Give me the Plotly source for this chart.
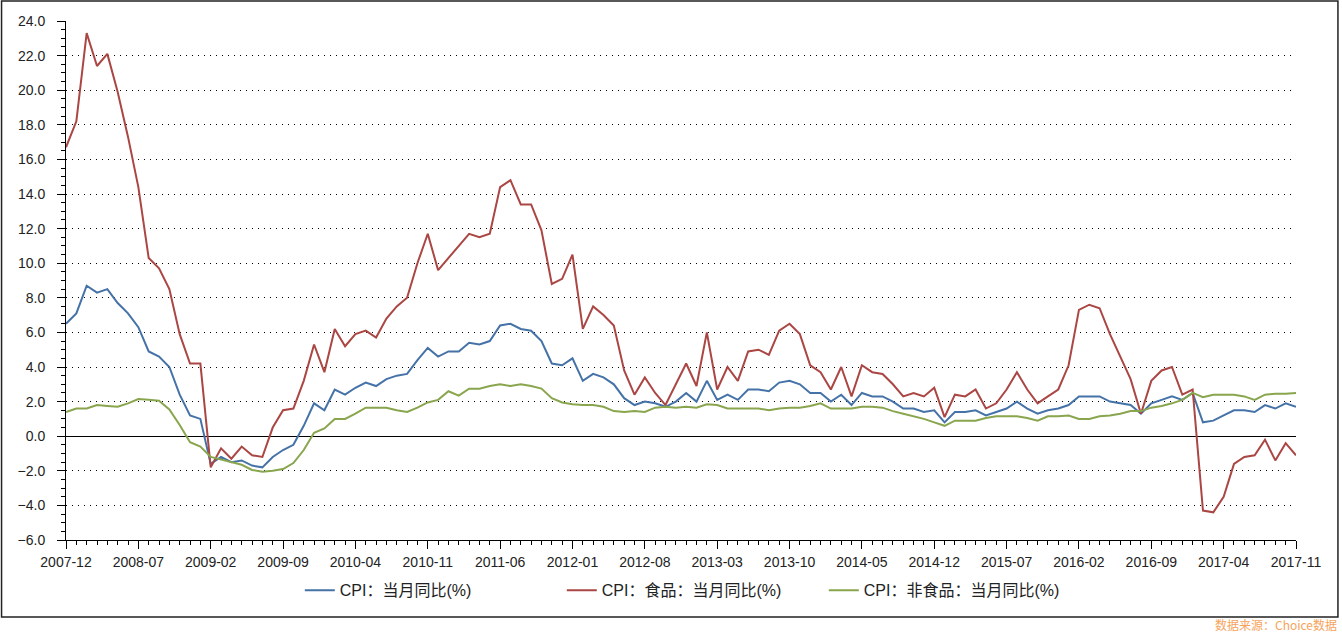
import pandas as pd
import plotly.graph_objects as go

# ---- data (monthly, 2007-12 .. 2017-11) ----
months = [p.strftime("%Y-%m") for p in pd.period_range("2007-12", "2017-11", freq="M")]

cpi = [6.5,
       7.1, 8.7, 8.3, 8.5, 7.7, 7.1, 6.3, 4.9, 4.6, 4.0, 2.4, 1.2,
       1.0, -1.6, -1.2, -1.5, -1.4, -1.7, -1.8, -1.2, -0.8, -0.5, 0.6, 1.9,
       1.5, 2.7, 2.4, 2.8, 3.1, 2.9, 3.3, 3.5, 3.6, 4.4, 5.1, 4.6,
       4.9, 4.9, 5.4, 5.3, 5.5, 6.4, 6.5, 6.2, 6.1, 5.5, 4.2, 4.1,
       4.5, 3.2, 3.6, 3.4, 3.0, 2.2, 1.8, 2.0, 1.9, 1.7, 2.0, 2.5,
       2.0, 3.2, 2.1, 2.4, 2.1, 2.7, 2.7, 2.6, 3.1, 3.2, 3.0, 2.5,
       2.5, 2.0, 2.4, 1.8, 2.5, 2.3, 2.3, 2.0, 1.6, 1.6, 1.4, 1.5,
       0.8, 1.4, 1.4, 1.5, 1.2, 1.4, 1.6, 2.0, 1.6, 1.3, 1.5, 1.6,
       1.8, 2.3, 2.3, 2.3, 2.0, 1.9, 1.8, 1.3, 1.9, 2.1, 2.3, 2.1,
       2.5, 0.8, 0.9, 1.2, 1.5, 1.5, 1.4, 1.8, 1.6, 1.9, 1.7]

food = [16.7,
        18.2, 23.3, 21.4, 22.1, 19.9, 17.3, 14.4, 10.3, 9.7, 8.5, 5.9, 4.2,
        4.2, -1.8, -0.7, -1.3, -0.6, -1.1, -1.2, 0.5, 1.5, 1.6, 3.2, 5.3,
        3.7, 6.2, 5.2, 5.9, 6.1, 5.7, 6.8, 7.5, 8.0, 10.0, 11.7, 9.6,
        10.3, 11.0, 11.7, 11.5, 11.7, 14.4, 14.8, 13.4, 13.4, 11.9, 8.8, 9.1,
        10.5, 6.2, 7.5, 7.0, 6.4, 3.8, 2.4, 3.4, 2.5, 1.8, 3.0, 4.2,
        2.9, 6.0, 2.7, 4.0, 3.2, 4.9, 5.0, 4.7, 6.1, 6.5, 5.9, 4.1,
        3.7, 2.7, 4.0, 2.3, 4.1, 3.7, 3.6, 3.0, 2.3, 2.5, 2.3, 2.8,
        1.1, 2.4, 2.3, 2.7, 1.6, 1.9, 2.7, 3.7, 2.7, 1.9, 2.3, 2.7,
        4.1, 7.3, 7.6, 7.4, 5.9, 4.6, 3.3, 1.3, 3.2, 3.8, 4.0, 2.4,
        2.7, -4.3, -4.4, -3.5, -1.6, -1.2, -1.1, -0.2, -1.4, -0.4, -1.1]

nonfood = [1.4,
           1.6, 1.6, 1.8, 1.75, 1.7, 1.9, 2.15, 2.1, 2.05, 1.55, 0.65, -0.35,
           -0.6, -1.2, -1.35, -1.5, -1.65, -1.95, -2.05, -2.0, -1.9, -1.55, -0.8, 0.2,
           0.45, 1.0, 1.0, 1.3, 1.65, 1.65, 1.65, 1.5, 1.4, 1.65, 1.95, 2.1,
           2.6, 2.35, 2.75, 2.75, 2.9, 3.0, 2.9, 3.0, 2.9, 2.75, 2.2, 1.95,
           1.85, 1.8, 1.8, 1.7, 1.45, 1.4, 1.45, 1.4, 1.65, 1.7, 1.65, 1.7,
           1.65, 1.85, 1.8, 1.6, 1.6, 1.6, 1.6, 1.5, 1.6, 1.65, 1.65, 1.75,
           1.9, 1.6, 1.6, 1.6, 1.7, 1.7, 1.65, 1.45, 1.3, 1.15, 1.0, 0.8,
           0.6, 0.9, 0.9, 0.9, 1.05, 1.15, 1.15, 1.15, 1.05, 0.9, 1.15, 1.15,
           1.2, 1.0, 1.0, 1.15, 1.2, 1.3, 1.45, 1.45, 1.65, 1.75, 1.9, 2.1,
           2.5, 2.25, 2.4, 2.4, 2.4, 2.3, 2.1, 2.4, 2.45, 2.45, 2.5]

tick_labels = ["2007-12", "2008-07", "2009-02", "2009-09", "2010-04", "2010-11",
               "2011-06", "2012-01", "2012-08", "2013-03", "2013-10", "2014-05",
               "2014-12", "2015-07", "2016-02", "2016-09", "2017-04", "2017-11"]

series_names = ["CPI：当月同比(%)", "CPI：食品：当月同比(%)", "CPI：非食品：当月同比(%)"]
series_values = [cpi, food, nonfood]
series_colors = ["#4572A7", "#AA4643", "#89A54E"]

source_text = "数据来源：Choice数据"

# ---- figure ----
x = list(range(len(months)))
fig = go.Figure()
for name, vals, col in zip(series_names, series_values, series_colors):
    fig.add_trace(go.Scatter(x=x, y=vals, mode="lines", name=name,
                             customdata=months,
                             hovertemplate="%{customdata}: %{y}<extra></extra>",
                             line=dict(color=col, width=2)))

tick_font = dict(family="Liberation Sans, Arial, sans-serif", size=14, color="#222")

fig.update_layout(
    width=1342, height=633,
    paper_bgcolor="white", plot_bgcolor="white",
    margin=dict(l=65.5, r=46, t=21, b=93, autoexpand=False),
    showlegend=True,
    legend=dict(orientation="h", x=0.5096, xanchor="center", y=-0.097, yanchor="middle",
                font=dict(family="Liberation Sans, Noto Sans CJK SC, sans-serif", size=16, color="#222"),
                entrywidth=217, entrywidthmode="pixels", itemwidth=30),
    xaxis=dict(range=[0, len(months) - 1],
               tickmode="array",
               tickvals=[months.index(t) for t in tick_labels],
               ticktext=tick_labels,
               ticks="outside", ticklen=8, tickwidth=1, tickcolor="#000",
               showline=True, linecolor="#000", linewidth=1,
               showgrid=False, zeroline=False,
               minor=dict(dtick=1, tick0=0, ticks="outside", ticklen=4, tickcolor="#000", showgrid=False),
               tickfont=tick_font, ticklabelstandoff=1),
    yaxis=dict(range=[-6, 24], dtick=2, tick0=0, tickformat=".1f",
               ticks="outside", ticklen=8, tickwidth=1, tickcolor="#000",
               showline=True, linecolor="#000", linewidth=1,
               showgrid=True, gridcolor="#000", gridwidth=1, griddash="1px,5px",
               zeroline=True, zerolinecolor="#000", zerolinewidth=1,
               minor=dict(dtick=0.5, ticks="outside", ticklen=4, tickcolor="#000", showgrid=False),
               tickfont=tick_font, ticklabelstandoff=9),
    shapes=[dict(type="rect", xref="paper", yref="paper",
                 x0=-0.0524, x1=1.0341, y0=-0.1484, y1=1.0385,
                 line=dict(color="#222", width=1.5), fillcolor="rgba(0,0,0,0)", layer="below")],
    annotations=[dict(text=source_text, xref="paper", yref="paper",
                      x=1.0350, y=-0.1635, xanchor="right", yanchor="middle",
                      showarrow=False,
                      font=dict(family="Noto Sans CJK SC, Liberation Sans, sans-serif", size=12, color="#F7A35C"))],
)

fig.write_html("out.html", config={"displayModeBar": False},
               post_script="document.body.style.margin='0px';")
